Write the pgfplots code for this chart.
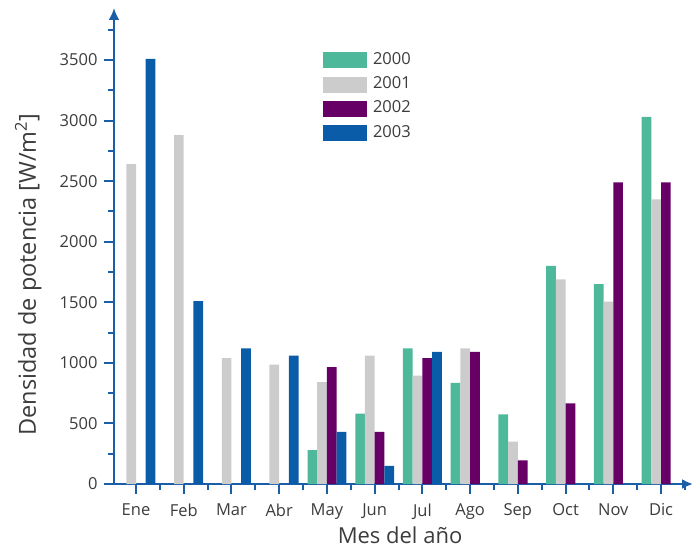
\documentclass[border=0pt]{standalone}
\usepackage{fontspec}
\setmainfont{Open Sans}
\usepackage{pgfplots}
\pgfplotsset{compat=1.18}
\usetikzlibrary{arrows.meta}
\definecolor{cA}{HTML}{4DB89A}
\definecolor{cB}{HTML}{CCCCCC}
\definecolor{cC}{HTML}{660066}
\definecolor{cD}{HTML}{0B5CA8}
\definecolor{axc}{HTML}{1A5EA8}
\definecolor{txt}{HTML}{3C3C3C}
\begin{document}
\begin{tikzpicture}
\useasboundingbox (0,0) rectangle (695bp,554bp);
\begin{axis}[
  at={(114bp,70bp)}, anchor=south west,
  scale only axis,
  width=579bp, height=476bp,
  xmin=-0.461, xmax=11.67,
  ymin=0, ymax=3929,
  axis lines=left,
  axis line style={axc, line width=2.6bp},
  x axis line style={-{Latex[length=11bp,width=10bp]}},
  y axis line style={-{Latex[length=12bp,width=11bp]}},
  ybar=0pt, bar width=9.7bp,
  xtick={0,...,11},
  xticklabels={Ene,Feb,Mar,Abr,May,Jun,Jul,Ago,Sep,Oct,Nov,Dic},
  minor xtick={0.5,1.5,...,11.5},
  ytick={0,500,...,3500},
  minor ytick={250,750,...,3750},
  tick align=outside,
  major tick length=10bp, minor tick length=6bp,
  tick style={axc, line width=2bp},
  minor tick style={axc, line width=2bp},
  tick label style={font=\fontsize{16.5bp}{18bp}\selectfont, text=txt},
  xticklabel style={yshift=-6bp},
  yticklabel style={xshift=-3bp},
  /pgf/number format/assume math mode=true,
  /pgf/number format/set thousands separator={},
  xlabel={Mes del año},
  ylabel={Densidad de potencia [W/m\textsuperscript{2}]},
  xlabel style={font=\fontsize{22bp}{26bp}\selectfont, text=txt, at={(axis description cs:0.494,-0.107)}, anchor=center},
  ylabel style={font=\fontsize{23.5bp}{26bp}\selectfont, text=txt, at={(axis description cs:-0.148,0.440)}, anchor=center},
  legend style={at={(axis description cs:0.361,0.907)}, anchor=north west,
    draw=none, fill=none, inner sep=0pt, outer sep=0pt, row sep=8.3bp,
    column sep=0pt,
    nodes={inner sep=0pt, outer sep=0pt, text height=12bp, text depth=4bp, anchor=west},
    font=\fontsize{16.5bp}{18bp}\selectfont, text=txt},
  legend image code/.code={\fill[#1] (0bp,-8bp) rectangle (44bp,8bp); \path (50bp,0bp);},
  legend cell align=left,
  clip=false,
]
\addplot[fill=cA, draw=none] coordinates {(4,280) (5,580) (6,1120) (7,835) (8,575) (9,1800) (10,1650) (11,3030)};
\addplot[fill=cB, draw=none] coordinates {(0,2640) (1,2880) (2,1040) (3,985) (4,840) (5,1060) (6,895) (7,1120) (8,350) (9,1690) (10,1505) (11,2350)};
\addplot[fill=cC, draw=none] coordinates {(4,965) (5,430) (6,1040) (7,1090) (8,195) (9,665) (10,2490) (11,2490)};
\addplot[fill=cD, draw=none] coordinates {(0,3510) (1,1510) (2,1120) (3,1060) (4,430) (5,150) (6,1090)};
\legend{2000,2001,2002,2003}
\end{axis}
\end{tikzpicture}
\end{document}
